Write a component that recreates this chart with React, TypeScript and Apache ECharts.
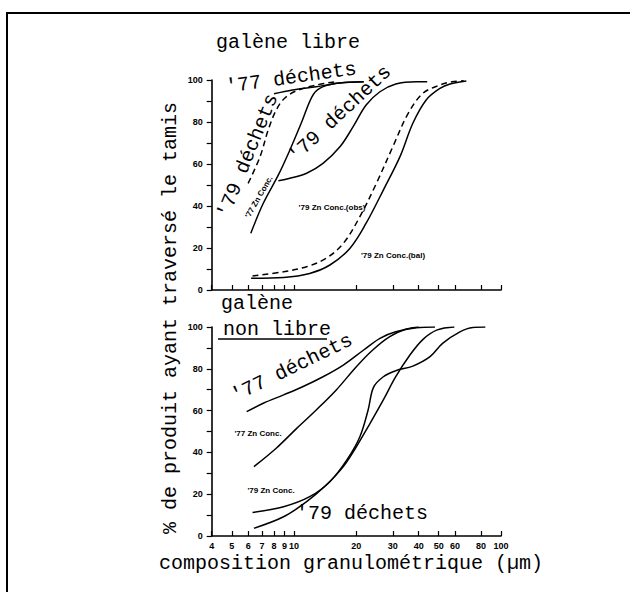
import React, { useEffect, useRef } from "react";
import * as echarts from "echarts";

// x: particle size (µm, log axis), y: % passing
const X_TICKS = [4, 5, 6, 7, 8, 9, 10, 20, 30, 40, 50, 60, 80, 100];
const Y_TICKS_MAJOR = [0, 20, 40, 60, 80, 100];

// galène libre (upper panel)
const libre77Dechets = [[8.0, 93.5], [9.0, 94.5], [10.2, 95.5], [12.8, 96.8], [16.7, 98.6], [21.7, 99.2]];
const libre79DechetsDashed = [[6.0, 50.8], [6.85, 63.5], [7.5, 76.2], [8.2, 85.7], [9.0, 91.3], [10.3, 94.9], [12.8, 97.6], [16.0, 99.2]];
const libre77ZnConc = [[6.18, 27], [7.1, 41.3], [8.4, 54.8], [9.55, 66.7], [10.9, 80.1], [12.2, 92], [13.3, 96], [16.0, 98.4], [21.7, 99.2]];
const libre79Dechets = [[8.4, 52], [9.55, 53.2], [11.5, 55.6], [13.8, 60.3], [16.7, 68.3], [19.3, 77.8], [22.3, 88.1], [26, 94.4], [31, 98.1], [39, 99.2], [44, 99.2]];
const libre79ZnObs = [[6.3, 6.7], [8.9, 8.7], [11.5, 11.1], [14.3, 15.1], [17.3, 22.2], [20.8, 34.9], [25, 50.8], [30, 68.2], [35.6, 84.1], [42, 93.7], [50.7, 97.6], [58, 99.2], [66, 99.6]];
const libre79ZnBal = [[6.2, 5.6], [8.9, 6], [11.9, 7.9], [14.9, 11.9], [18.6, 19.8], [22.3, 31.8], [27, 47.6], [32.5, 63.5], [37.5, 79.4], [43.5, 90.5], [50.7, 96], [56.7, 98.1], [68, 99.5]];

// galène non libre (lower panel)
const nonLibre77Dechets = [[5.9, 59.5], [7.1, 63.5], [8.9, 67.5], [11, 71.4], [13.8, 76.2], [17.3, 81.8], [21.7, 89], [26, 94.6], [31, 97.7], [39, 99.6], [48, 100]];
const nonLibre77ZnConc = [[6.4, 33.2], [8.2, 42], [10.3, 51.5], [12.8, 60.3], [16, 69.9], [20, 81], [24, 89], [29, 95.4], [34.6, 98.9], [40, 100]];
const nonLibre79ZnConc = [[6.3, 11.3], [8.9, 14], [11.9, 18.8], [14.9, 26], [18, 36.4], [20.8, 47.5], [22.8, 60.3], [24.2, 71.1], [27, 76.2], [31, 79.1], [37.5, 81.3], [45.4, 85.8], [52.2, 92.2], [63.3, 97.7], [73, 99.8], [84, 100]];
const nonLibre79Dechets = [[6.4, 3.7], [8.9, 9.2], [11.5, 16.4], [14.3, 24.4], [17.3, 33.2], [20, 42.7], [23.3, 53.9], [27, 65.1], [31, 76.2], [36.3, 86.6], [42, 94.1], [49.2, 98.6], [59.5, 100]];

const MONO = "'Liberation Mono', 'Courier New', monospace";
const SANS = "'Liberation Sans', Arial, sans-serif";

function xAxis(gridIndex: number, showLabels: boolean) {
  return {
    type: "log",
    logBase: 10,
    min: 4,
    max: 100,
    gridIndex,
    axisLine: { lineStyle: { color: "#000", width: 1.6 } },
    axisTick: { inside: true, length: 5, customValues: X_TICKS, lineStyle: { color: "#000", width: 1.2 } },
    axisLabel: {
      show: showLabels,
      customValues: X_TICKS,
      fontSize: 9,
      fontWeight: "bold",
      fontFamily: SANS,
      color: "#000",
      margin: 5,
    },
    minorTick: { show: false },
    splitLine: { show: false },
  };
}

function yAxis(gridIndex: number) {
  return {
    type: "value",
    min: 0,
    max: 100,
    interval: 10,
    gridIndex,
    axisLine: { show: true, lineStyle: { color: "#000", width: 1.6 } },
    axisTick: { show: true, length: 5, lineStyle: { color: "#000", width: 1.2 } },
    axisLabel: {
      fontSize: 9,
      fontWeight: "bold",
      fontFamily: SANS,
      color: "#000",
      margin: 9,
      formatter: (v: number) => (Y_TICKS_MAJOR.includes(v) ? String(v) : ""),
    },
    splitLine: { show: false },
  };
}

function line(data: number[][], idx: number, dashed = false) {
  return {
    type: "line",
    xAxisIndex: idx,
    yAxisIndex: idx,
    data,
    showSymbol: false,
    symbol: "none",
    smooth: 0.35,
    lineStyle: { color: "#000", width: 1.5, type: dashed ? [6, 4] : "solid" },
  };
}

function label(text: string, x: number, y: number, size: number, rotDeg = 0, mono = true) {
  return {
    type: "text",
    x,
    y,
    rotation: (rotDeg * Math.PI) / 180,
    style: {
      text,
      fill: "#000",
      font: mono ? `${size}px ${MONO}` : `bold ${size}px ${SANS}`,
      align: "center",
      verticalAlign: "middle",
    },
  };
}

export default function App() {
  const ref = useRef<HTMLDivElement>(null);
  useEffect(() => {
    document.body.style.margin = "0";
    const chart = echarts.init(ref.current!, null, { renderer: "svg" });
    chart.setOption({
      animation: false,
      backgroundColor: "#fff",
      grid: [
        { left: 211.7, top: 80, width: 289.3, height: 210, outerBoundsMode: "none" },
        { left: 211.7, top: 327, width: 289.3, height: 209, outerBoundsMode: "none" },
      ],
      xAxis: [xAxis(0, false), xAxis(1, true)],
      yAxis: [yAxis(0), yAxis(1)],
      series: [
        line(libre77Dechets, 0),
        line(libre79DechetsDashed, 0, true),
        line(libre77ZnConc, 0),
        line(libre79Dechets, 0),
        line(libre79ZnObs, 0, true),
        line(libre79ZnBal, 0),
        line(nonLibre77Dechets, 1),
        line(nonLibre77ZnConc, 1),
        line(nonLibre79ZnConc, 1),
        line(nonLibre79Dechets, 1),
      ],
      graphic: [
        {
          type: "polyline",
          shape: { points: [[7, 592], [7, 13], [630, 13]] },
          style: { stroke: "#000", lineWidth: 2, fill: null },
        },
        label("galène libre", 288, 42, 20),
        {
          type: "text",
          x: 221,
          y: 303,
          style: { text: "galène", fill: "#000", font: `20px ${MONO}`, align: "left", verticalAlign: "middle" },
        },
        {
          type: "text",
          x: 223,
          y: 329,
          style: { text: "non libre", fill: "#000", font: `20px ${MONO}`, align: "left", verticalAlign: "middle" },
        },
        {
          type: "line",
          shape: { x1: 218, y1: 339, x2: 327, y2: 339 },
          style: { stroke: "#000", lineWidth: 1.5 },
        },
        label("% de produit ayant traversé le tamis", 170, 318, 20, 90),
        label("composition granulométrique (µm)", 351, 563, 20),
        // upper panel curve labels
        label("'77 déchets", 291, 78, 20, 8),
        label("'79 déchets", 248, 156, 20, 68),
        label("'79 déchets", 340, 114, 20, 43),
        label("'77 Zn Conc.", 259, 197, 8, 60, false),
        label("'79 Zn Conc.(obs)", 332, 207, 8, 0, false),
        label("'79 Zn Conc.(bal)", 393, 255, 8, 0, false),
        // lower panel curve labels
        label("'77 déchets", 292, 368, 20, 26),
        label("'77 Zn Conc.", 258, 433, 8, 0, false),
        label("'79 Zn Conc.", 271, 490, 8, 0, false),
        label("'79 déchets", 362, 513, 20),
      ],
    });
    return () => chart.dispose();
  }, []);
  return <div ref={ref} style={{ width: 630, height: 592 }} />;
}
